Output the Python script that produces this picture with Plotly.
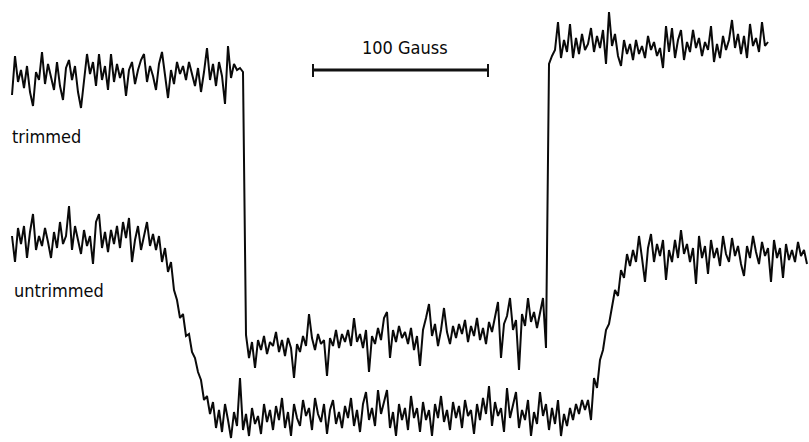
import plotly.graph_objects as go

# field sampling (channel units) shared by both sweeps
field_start = 12
field_step = 3

# trimmed trace (screen-down signal units)
trimmed_signal = [
    95, 56, 82, 70, 88, 66, 92, 106, 72, 80, 52, 84, 64, 78, 90, 62, 86, 100, 68, 60,
    80, 66, 92, 108, 78, 54, 74, 62, 86, 54, 80, 66, 90, 54, 82, 64, 78, 68, 96, 70,
    62, 84, 70, 60, 54, 82, 66, 76, 90, 64, 52, 78, 98, 70, 84, 62, 74, 66, 80, 62,
    74, 86, 68, 92, 72, 48, 80, 64, 86, 62, 76, 104, 46, 78, 64, 70, 68, 72,
    335, 358, 342, 368, 340, 350, 336, 354, 342, 346, 332, 352, 340, 356, 338, 348, 378, 344, 352, 336,
    346, 314, 338, 350, 334, 344, 340, 376, 338, 346, 330, 348, 334, 342, 330, 346, 318, 342, 334, 348,
    330, 372, 336, 344, 328, 340, 318, 312, 358, 330, 342, 326, 338, 332, 344, 328, 350, 336, 366, 330,
    318, 304, 336, 324, 346, 330, 308, 332, 344, 326, 338, 324, 334, 320, 342, 326, 336, 318, 340, 328,
    344, 322, 332, 318, 302, 358, 324, 316, 298, 330, 320, 370, 314, 326, 298, 322, 312, 328, 314, 298,
    348,
    64, 56, 50, 22, 58, 40, 52, 24, 58, 38, 54, 34, 50, 44, 28, 52, 36, 48, 30, 64,
    12, 46, 34, 56, 66, 40, 54, 44, 60, 40, 54, 46, 58, 36, 50, 42, 56, 48, 68, 26,
    52, 28, 58, 40, 30, 60, 42, 52, 30, 48, 38, 56, 42, 50, 26, 62, 44, 58, 36, 50,
    40, 20, 48, 34, 54, 36, 58, 24, 46, 38, 52, 22, 46, 42,
]

# untrimmed trace (screen-down signal units)
untrimmed_signal = [
    236, 262, 228, 244, 226, 258, 232, 214, 250, 236, 246, 228, 242, 258, 232, 248, 222, 244, 236, 206,
    250, 226, 240, 254, 230, 246, 236, 264, 222, 214, 248, 232, 252, 230, 244, 226, 248, 222, 238, 218,
    262, 240, 226, 250, 236, 222, 246, 234,
    250, 236, 262, 248, 272, 262, 290, 300, 318, 314, 336, 334, 352, 358, 372, 380, 400, 396, 414,
    402, 428, 410, 432, 404, 420, 438, 412, 426, 378, 430, 414, 436, 408, 424, 416, 434, 404, 422, 410,
    430, 406, 420, 398, 428, 412, 436, 404, 418, 426, 400, 416, 408, 430, 398, 414, 422, 404, 434, 410,
    400, 424, 412, 428, 406, 418, 398, 426, 410, 432, 404, 392, 420, 408, 426, 390, 414, 402, 390, 428,
    412, 436, 404, 420, 408, 430, 396, 418, 408, 432, 402, 420, 410, 436, 404, 418, 396, 422, 410, 430,
    402, 418, 406, 428, 400, 416, 410, 434, 404, 420, 398, 414, 386, 426, 402, 416, 408, 432, 388, 418,
    406, 392, 428, 410, 420, 400, 436, 412, 424, 392, 416, 404, 430, 408, 424, 400, 436, 414, 426, 408,
    420, 404, 414, 400, 410,
    400, 420, 378, 388, 360, 350, 330, 324, 306, 290, 296, 270, 278, 254, 266,
    250, 262, 236, 258, 282, 248, 234, 262, 244, 256, 240, 280, 250, 262, 240, 258, 230, 254, 244, 262,
    248, 284, 236, 258, 246, 274, 240, 258, 248, 266, 236, 254, 262, 238, 256, 246, 264, 276, 246, 258,
    236, 252, 264, 242, 256, 248, 282, 240, 258, 248, 278, 244, 260, 250, 262, 242, 256, 250, 264,
]

labels = ["trimmed", "untrimmed"]
scale_label = "100 Gauss"
scale_bar_field = [313, 488]

trimmed_field = [field_start + field_step * i for i in range(len(trimmed_signal))]
untrimmed_field = [field_start + field_step * i for i in range(len(untrimmed_signal))]

fig = go.Figure()
for fx, fy in [(trimmed_field, trimmed_signal), (untrimmed_field, untrimmed_signal)]:
    fig.add_trace(go.Scatter(x=fx, y=fy, mode="lines",
                             line=dict(color="#0a0a0a", width=2.0),
                             hoverinfo="skip", showlegend=False))

font = dict(family="DejaVu Sans Condensed, DejaVu Sans", size=18, color="#0a0a0a")
fig.add_annotation(x=10, y=136, text=labels[0], showarrow=False, xanchor="left", yanchor="middle", font=font)
fig.add_annotation(x=12, y=290, text=labels[1], showarrow=False, xanchor="left", yanchor="middle", font=font)
fig.add_annotation(x=(scale_bar_field[0] + scale_bar_field[1]) / 2 + 4, y=47, text=scale_label,
                   showarrow=False, xanchor="center", yanchor="middle", font=font)

fig.add_shape(type="line", x0=scale_bar_field[0], x1=scale_bar_field[1], y0=70, y1=70,
              line=dict(color="#111111", width=3))
for xe in scale_bar_field:
    fig.add_shape(type="line", x0=xe, x1=xe, y0=64, y1=77, line=dict(color="#111111", width=2))

fig.update_layout(
    width=809, height=442,
    margin=dict(l=0, r=0, t=0, b=0),
    paper_bgcolor="white", plot_bgcolor="white",
    xaxis=dict(range=[0, 809], visible=False, fixedrange=True),
    yaxis=dict(range=[442, 0], visible=False, fixedrange=True),
)
fig.write_html("out.html")
